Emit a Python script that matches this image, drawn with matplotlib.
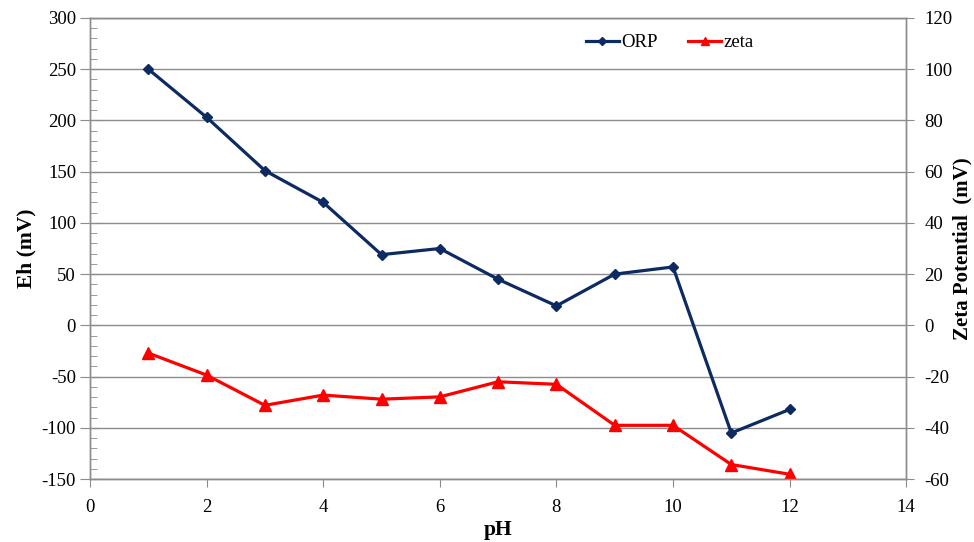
import matplotlib
matplotlib.use("Agg")
import matplotlib.pyplot as plt
from matplotlib.ticker import MultipleLocator

plt.rcParams['font.family'] = ['Liberation Serif', 'DejaVu Serif']
plt.rcParams['axes.unicode_minus'] = False

# measured values
ph = [1, 2, 3, 4, 5, 6, 7, 8, 9, 10, 11, 12]
orp = [250, 203, 151, 120, 69, 75, 45, 19, 50, 57, -105, -82]
zeta = [-10.8, -19.4, -31.2, -27.2, -28.8, -27.9, -22, -23, -39, -39, -54.3, -58.1]

grid_c = '#8c8c8c'
navy = '#0d2a63'

fig = plt.figure(figsize=(9.74, 5.42), dpi=100)
ax = fig.add_axes([0.0924, 0.116, 0.838, 0.851])
ax2 = ax.twinx()

l1, = ax.plot(ph, orp, color=navy, lw=2.3, marker='D', ms=5.5, label='ORP')
l2, = ax2.plot(ph, zeta, color='#ff0000', lw=2.3, marker='^', ms=8, label='zeta')

ax.set_xlim(0, 14)
ax.set_ylim(-150, 300)
ax2.set_ylim(-60, 120)
ax.xaxis.set_major_locator(MultipleLocator(2))
ax.yaxis.set_major_locator(MultipleLocator(50))
ax.yaxis.set_minor_locator(MultipleLocator(10))
ax2.yaxis.set_major_locator(MultipleLocator(20))

ax.yaxis.grid(True, color=grid_c, lw=1.0)
ax.set_axisbelow(True)

for a in (ax, ax2):
    for s in a.spines.values():
        s.set_color(grid_c)
        s.set_linewidth(1.0)

fs = 13.5
ax.tick_params(axis='x', direction='out', length=6, color=grid_c, labelsize=fs, pad=8)
ax.tick_params(axis='y', which='major', direction='inout', length=14, color=grid_c, labelsize=fs, pad=3)
ax.tick_params(axis='y', which='minor', direction='in', length=5, color=grid_c)
ax2.tick_params(axis='y', direction='out', length=6, color=grid_c, labelsize=fs, pad=7)

ax.set_xlabel('pH', fontsize=15.5, fontweight='bold', labelpad=3)
ax.set_ylabel('Eh (mV)', fontsize=15.5, fontweight='bold', labelpad=4)
ax2.set_ylabel('Zeta Potential  (mV)', fontsize=15, fontweight='bold', labelpad=0)

ax.legend(handles=[l1, l2], loc='center', bbox_to_anchor=(0.71, 0.946), ncol=2,
          frameon=False, fontsize=fs, handlelength=1.8, handletextpad=0.1,
          columnspacing=1.6, markerscale=0.8)

fig.savefig('out.png', dpi=100)
